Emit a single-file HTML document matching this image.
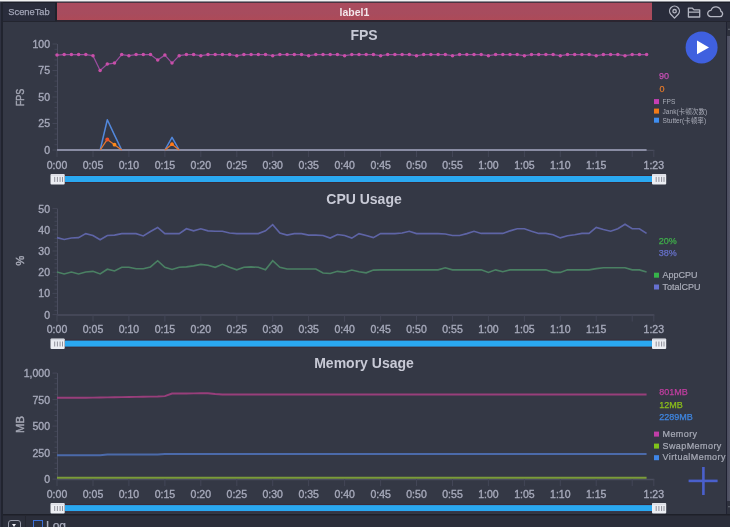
<!DOCTYPE html>
<html><head><meta charset="utf-8">
<style>
html,body{margin:0;padding:0;}
body{width:730px;height:527px;overflow:hidden;background:#343845;position:relative;font-family:"Liberation Sans","Noto Sans CJK SC",sans-serif;}
.abs{position:absolute;}
svg text{font-family:"Liberation Sans","Noto Sans CJK SC",sans-serif;}
.al{font-size:10.5px;fill:#a6a9ba;stroke:#a6a9ba;stroke-width:0.35px;}
.tt{font-size:14px;font-weight:bold;fill:#c8cad6;}
.yn{font-size:11.3px;fill:#a3a6b3;stroke:#a3a6b3;stroke-width:0.45px;}
.vl{font-size:9px;stroke-width:0.25px;}
.lg{font-size:9px;fill:#a9acb8;stroke:#a9acb8;stroke-width:0.2px;}
.lgm{letter-spacing:0.42px;}
.lgs{font-size:6.6px;fill:#a9acb8;}
</style></head><body>
<div class="abs" style="left:0;top:0;width:730px;height:1px;background:#f2f2f2"></div>
<div class="abs" style="left:0;top:1px;width:730px;height:1px;background:#8a8c94"></div>
<div class="abs" style="left:0;top:2px;width:730px;height:20px;background:#292c3b"></div>
<div class="abs" style="left:0;top:2px;width:730px;height:1px;background:#1d1f29"></div>
<div class="abs" style="left:3px;top:3px;width:52px;height:18px;background:#2a2d3c;color:#a3a6b8;font-size:9.3px;line-height:18px;text-align:center;-webkit-text-stroke:0.25px #a3a6b8">SceneTab</div>
<div class="abs" style="left:0;top:21px;width:730px;height:1px;background:#23252f"></div>
<div class="abs" style="left:55px;top:3px;width:1.5px;height:18px;background:#20222b"></div>
<div class="abs" style="left:57px;top:20px;width:595px;height:2px;background:#2b2530"></div>
<div class="abs" style="left:57px;top:2px;width:595px;height:1px;background:#4a3340"></div>
<div class="abs" style="left:57px;top:3px;width:595px;height:17px;background:linear-gradient(#ab4b5e,#a74c5e 60%,#ae4a58);color:#f4e6ea;font-size:10.5px;font-weight:bold;line-height:18px;text-align:center">label1</div>
<div class="abs" style="left:0;top:2px;width:1px;height:525px;background:#2e3140"></div>
<div class="abs" style="left:1px;top:2px;width:2px;height:525px;background:#21242f"></div>
<svg class="abs" style="left:0;top:0" width="730" height="527" viewBox="0 0 730 527">
<!-- top icons -->
<g fill="none" stroke="#b4b6c2" stroke-width="1.3" stroke-linejoin="round" stroke-linecap="round">
<path d="M674.5 18.1 L670.8 14.3 A4.9 4.9 0 1 1 678.2 14.3 Z"/>
<circle cx="674.6" cy="11.2" r="1.7"/>
<path d="M688.4 17 V8.2 H692.4 L694 9.9 H699.7 V17 Z M688.4 12.1 H699.7"/>
<path d="M710.6 16.6 H720 A2.7 2.7 0 0 0 720.9 11.4 A5.1 5.1 0 0 0 711 10.4 A3.1 3.1 0 0 0 710.6 16.6 Z"/>
</g>
<line x1="57.5" y1="44.0" x2="57.5" y2="150.0" stroke="#4a4d5e" stroke-width="1"/>
<line x1="52.5" y1="150.0" x2="57" y2="150.0" stroke="#434657" stroke-width="1"/>
<text x="50" y="153.9" text-anchor="end" class="al">0</text>
<line x1="54.5" y1="144.7" x2="57" y2="144.7" stroke="#434657" stroke-width="1"/>
<line x1="54.5" y1="139.4" x2="57" y2="139.4" stroke="#434657" stroke-width="1"/>
<line x1="54.5" y1="134.1" x2="57" y2="134.1" stroke="#434657" stroke-width="1"/>
<line x1="54.5" y1="128.8" x2="57" y2="128.8" stroke="#434657" stroke-width="1"/>
<line x1="52.5" y1="123.5" x2="57" y2="123.5" stroke="#434657" stroke-width="1"/>
<text x="50" y="127.4" text-anchor="end" class="al">25</text>
<line x1="54.5" y1="118.2" x2="57" y2="118.2" stroke="#434657" stroke-width="1"/>
<line x1="54.5" y1="112.9" x2="57" y2="112.9" stroke="#434657" stroke-width="1"/>
<line x1="54.5" y1="107.6" x2="57" y2="107.6" stroke="#434657" stroke-width="1"/>
<line x1="54.5" y1="102.3" x2="57" y2="102.3" stroke="#434657" stroke-width="1"/>
<line x1="52.5" y1="97.0" x2="57" y2="97.0" stroke="#434657" stroke-width="1"/>
<text x="50" y="100.9" text-anchor="end" class="al">50</text>
<line x1="54.5" y1="91.7" x2="57" y2="91.7" stroke="#434657" stroke-width="1"/>
<line x1="54.5" y1="86.4" x2="57" y2="86.4" stroke="#434657" stroke-width="1"/>
<line x1="54.5" y1="81.1" x2="57" y2="81.1" stroke="#434657" stroke-width="1"/>
<line x1="54.5" y1="75.8" x2="57" y2="75.8" stroke="#434657" stroke-width="1"/>
<line x1="52.5" y1="70.5" x2="57" y2="70.5" stroke="#434657" stroke-width="1"/>
<text x="50" y="74.4" text-anchor="end" class="al">75</text>
<line x1="54.5" y1="65.2" x2="57" y2="65.2" stroke="#434657" stroke-width="1"/>
<line x1="54.5" y1="59.9" x2="57" y2="59.9" stroke="#434657" stroke-width="1"/>
<line x1="54.5" y1="54.6" x2="57" y2="54.6" stroke="#434657" stroke-width="1"/>
<line x1="54.5" y1="49.3" x2="57" y2="49.3" stroke="#434657" stroke-width="1"/>
<line x1="52.5" y1="44.0" x2="57" y2="44.0" stroke="#434657" stroke-width="1"/>
<text x="50" y="47.9" text-anchor="end" class="al">100</text>
<line x1="57" y1="150.4" x2="654.3" y2="150.4" stroke="#4a4d5e" stroke-width="1.4"/>
<line x1="57.0" y1="150.0" x2="57.0" y2="157.0" stroke="#434657" stroke-width="1"/>
<text x="57.0" y="168.7" text-anchor="middle" class="al">0:00</text>
<line x1="93.0" y1="150.0" x2="93.0" y2="157.0" stroke="#434657" stroke-width="1"/>
<text x="93.0" y="168.7" text-anchor="middle" class="al">0:05</text>
<line x1="128.9" y1="150.0" x2="128.9" y2="157.0" stroke="#434657" stroke-width="1"/>
<text x="128.9" y="168.7" text-anchor="middle" class="al">0:10</text>
<line x1="164.9" y1="150.0" x2="164.9" y2="157.0" stroke="#434657" stroke-width="1"/>
<text x="164.9" y="168.7" text-anchor="middle" class="al">0:15</text>
<line x1="200.8" y1="150.0" x2="200.8" y2="157.0" stroke="#434657" stroke-width="1"/>
<text x="200.8" y="168.7" text-anchor="middle" class="al">0:20</text>
<line x1="236.8" y1="150.0" x2="236.8" y2="157.0" stroke="#434657" stroke-width="1"/>
<text x="236.8" y="168.7" text-anchor="middle" class="al">0:25</text>
<line x1="272.7" y1="150.0" x2="272.7" y2="157.0" stroke="#434657" stroke-width="1"/>
<text x="272.7" y="168.7" text-anchor="middle" class="al">0:30</text>
<line x1="308.6" y1="150.0" x2="308.6" y2="157.0" stroke="#434657" stroke-width="1"/>
<text x="308.6" y="168.7" text-anchor="middle" class="al">0:35</text>
<line x1="344.6" y1="150.0" x2="344.6" y2="157.0" stroke="#434657" stroke-width="1"/>
<text x="344.6" y="168.7" text-anchor="middle" class="al">0:40</text>
<line x1="380.6" y1="150.0" x2="380.6" y2="157.0" stroke="#434657" stroke-width="1"/>
<text x="380.6" y="168.7" text-anchor="middle" class="al">0:45</text>
<line x1="416.5" y1="150.0" x2="416.5" y2="157.0" stroke="#434657" stroke-width="1"/>
<text x="416.5" y="168.7" text-anchor="middle" class="al">0:50</text>
<line x1="452.5" y1="150.0" x2="452.5" y2="157.0" stroke="#434657" stroke-width="1"/>
<text x="452.5" y="168.7" text-anchor="middle" class="al">0:55</text>
<line x1="488.4" y1="150.0" x2="488.4" y2="157.0" stroke="#434657" stroke-width="1"/>
<text x="488.4" y="168.7" text-anchor="middle" class="al">1:00</text>
<line x1="524.4" y1="150.0" x2="524.4" y2="157.0" stroke="#434657" stroke-width="1"/>
<text x="524.4" y="168.7" text-anchor="middle" class="al">1:05</text>
<line x1="560.3" y1="150.0" x2="560.3" y2="157.0" stroke="#434657" stroke-width="1"/>
<text x="560.3" y="168.7" text-anchor="middle" class="al">1:10</text>
<line x1="596.2" y1="150.0" x2="596.2" y2="157.0" stroke="#434657" stroke-width="1"/>
<text x="596.2" y="168.7" text-anchor="middle" class="al">1:15</text>
<line x1="632.2" y1="150.0" x2="632.2" y2="157.0" stroke="#434657" stroke-width="1"/>
<line x1="653.8" y1="150.0" x2="653.8" y2="157.0" stroke="#434657" stroke-width="1"/>
<text x="653.8" y="168.7" text-anchor="middle" class="al">1:23</text>
<line x1="57.0" y1="150.0" x2="646.6" y2="150.0" stroke="#898ca3" stroke-width="1.8"/>
<polyline points="100.14,150.00 107.33,119.79 114.52,135.16 121.71,150.00" fill="none" stroke="#5288dc" stroke-width="1.5" stroke-linejoin="round"/>
<polyline points="100.14,150.00 107.33,139.40 114.52,144.70 121.71,150.00" fill="none" stroke="#e8772e" stroke-width="1.3" stroke-linejoin="round"/>
<polyline points="164.85,150.00 172.04,137.28 179.23,150.00" fill="none" stroke="#5288dc" stroke-width="1.5" stroke-linejoin="round"/>
<polyline points="164.85,150.00 172.04,144.17 179.23,150.00" fill="none" stroke="#e8772e" stroke-width="1.3" stroke-linejoin="round"/>
<circle cx="107.3" cy="139.4" r="2" fill="#f0502a"/>
<circle cx="114.5" cy="144.7" r="1.9" fill="#ff8a1a"/>
<circle cx="172.0" cy="144.2" r="1.9" fill="#ff7a1a"/>
<polyline points="57.00,55.13 64.19,54.60 71.38,54.60 78.57,54.60 85.76,54.60 92.95,55.66 100.14,70.50 107.33,64.14 114.52,63.08 121.71,54.60 128.90,55.66 136.09,54.60 143.28,54.60 150.47,54.60 157.66,59.90 164.85,55.13 172.04,63.08 179.23,55.66 186.42,54.60 193.61,54.60 200.80,55.66 207.99,54.60 215.18,54.60 222.37,54.60 229.56,54.60 236.75,55.66 243.94,54.60 251.13,54.60 258.32,54.60 265.51,54.60 272.70,55.66 279.89,54.60 287.08,54.60 294.27,54.60 301.46,54.60 308.65,55.66 315.84,54.60 323.03,54.60 330.22,54.60 337.41,54.60 344.60,55.66 351.79,54.60 358.98,54.60 366.17,54.60 373.36,54.60 380.55,55.66 387.74,54.60 394.93,54.60 402.12,54.60 409.31,54.60 416.50,55.66 423.69,54.60 430.88,54.60 438.07,54.60 445.26,54.60 452.45,55.66 459.64,54.60 466.83,54.60 474.02,54.60 481.21,54.60 488.40,55.66 495.59,54.60 502.78,54.60 509.97,54.60 517.16,54.60 524.35,55.66 531.54,54.60 538.73,54.60 545.92,54.60 553.11,54.60 560.30,55.66 567.49,54.60 574.68,54.60 581.87,54.60 589.06,54.60 596.25,55.66 603.44,54.60 610.63,54.60 617.82,54.60 625.01,55.66 632.20,54.60 639.39,54.60 646.58,54.60" fill="none" stroke="#9a4c9e" stroke-width="1.2"/>
<circle cx="57.0" cy="55.1" r="1.75" fill="#c94fa8"/>
<circle cx="64.2" cy="54.6" r="1.75" fill="#c94fa8"/>
<circle cx="71.4" cy="54.6" r="1.75" fill="#c94fa8"/>
<circle cx="78.6" cy="54.6" r="1.75" fill="#c94fa8"/>
<circle cx="85.8" cy="54.6" r="1.75" fill="#c94fa8"/>
<circle cx="93.0" cy="55.7" r="1.75" fill="#c94fa8"/>
<circle cx="100.1" cy="70.5" r="1.75" fill="#c94fa8"/>
<circle cx="107.3" cy="64.1" r="1.75" fill="#c94fa8"/>
<circle cx="114.5" cy="63.1" r="1.75" fill="#c94fa8"/>
<circle cx="121.7" cy="54.6" r="1.75" fill="#c94fa8"/>
<circle cx="128.9" cy="55.7" r="1.75" fill="#c94fa8"/>
<circle cx="136.1" cy="54.6" r="1.75" fill="#c94fa8"/>
<circle cx="143.3" cy="54.6" r="1.75" fill="#c94fa8"/>
<circle cx="150.5" cy="54.6" r="1.75" fill="#c94fa8"/>
<circle cx="157.7" cy="59.9" r="1.75" fill="#c94fa8"/>
<circle cx="164.9" cy="55.1" r="1.75" fill="#c94fa8"/>
<circle cx="172.0" cy="63.1" r="1.75" fill="#c94fa8"/>
<circle cx="179.2" cy="55.7" r="1.75" fill="#c94fa8"/>
<circle cx="186.4" cy="54.6" r="1.75" fill="#c94fa8"/>
<circle cx="193.6" cy="54.6" r="1.75" fill="#c94fa8"/>
<circle cx="200.8" cy="55.7" r="1.75" fill="#c94fa8"/>
<circle cx="208.0" cy="54.6" r="1.75" fill="#c94fa8"/>
<circle cx="215.2" cy="54.6" r="1.75" fill="#c94fa8"/>
<circle cx="222.4" cy="54.6" r="1.75" fill="#c94fa8"/>
<circle cx="229.6" cy="54.6" r="1.75" fill="#c94fa8"/>
<circle cx="236.8" cy="55.7" r="1.75" fill="#c94fa8"/>
<circle cx="243.9" cy="54.6" r="1.75" fill="#c94fa8"/>
<circle cx="251.1" cy="54.6" r="1.75" fill="#c94fa8"/>
<circle cx="258.3" cy="54.6" r="1.75" fill="#c94fa8"/>
<circle cx="265.5" cy="54.6" r="1.75" fill="#c94fa8"/>
<circle cx="272.7" cy="55.7" r="1.75" fill="#c94fa8"/>
<circle cx="279.9" cy="54.6" r="1.75" fill="#c94fa8"/>
<circle cx="287.1" cy="54.6" r="1.75" fill="#c94fa8"/>
<circle cx="294.3" cy="54.6" r="1.75" fill="#c94fa8"/>
<circle cx="301.5" cy="54.6" r="1.75" fill="#c94fa8"/>
<circle cx="308.6" cy="55.7" r="1.75" fill="#c94fa8"/>
<circle cx="315.8" cy="54.6" r="1.75" fill="#c94fa8"/>
<circle cx="323.0" cy="54.6" r="1.75" fill="#c94fa8"/>
<circle cx="330.2" cy="54.6" r="1.75" fill="#c94fa8"/>
<circle cx="337.4" cy="54.6" r="1.75" fill="#c94fa8"/>
<circle cx="344.6" cy="55.7" r="1.75" fill="#c94fa8"/>
<circle cx="351.8" cy="54.6" r="1.75" fill="#c94fa8"/>
<circle cx="359.0" cy="54.6" r="1.75" fill="#c94fa8"/>
<circle cx="366.2" cy="54.6" r="1.75" fill="#c94fa8"/>
<circle cx="373.4" cy="54.6" r="1.75" fill="#c94fa8"/>
<circle cx="380.6" cy="55.7" r="1.75" fill="#c94fa8"/>
<circle cx="387.7" cy="54.6" r="1.75" fill="#c94fa8"/>
<circle cx="394.9" cy="54.6" r="1.75" fill="#c94fa8"/>
<circle cx="402.1" cy="54.6" r="1.75" fill="#c94fa8"/>
<circle cx="409.3" cy="54.6" r="1.75" fill="#c94fa8"/>
<circle cx="416.5" cy="55.7" r="1.75" fill="#c94fa8"/>
<circle cx="423.7" cy="54.6" r="1.75" fill="#c94fa8"/>
<circle cx="430.9" cy="54.6" r="1.75" fill="#c94fa8"/>
<circle cx="438.1" cy="54.6" r="1.75" fill="#c94fa8"/>
<circle cx="445.3" cy="54.6" r="1.75" fill="#c94fa8"/>
<circle cx="452.5" cy="55.7" r="1.75" fill="#c94fa8"/>
<circle cx="459.6" cy="54.6" r="1.75" fill="#c94fa8"/>
<circle cx="466.8" cy="54.6" r="1.75" fill="#c94fa8"/>
<circle cx="474.0" cy="54.6" r="1.75" fill="#c94fa8"/>
<circle cx="481.2" cy="54.6" r="1.75" fill="#c94fa8"/>
<circle cx="488.4" cy="55.7" r="1.75" fill="#c94fa8"/>
<circle cx="495.6" cy="54.6" r="1.75" fill="#c94fa8"/>
<circle cx="502.8" cy="54.6" r="1.75" fill="#c94fa8"/>
<circle cx="510.0" cy="54.6" r="1.75" fill="#c94fa8"/>
<circle cx="517.2" cy="54.6" r="1.75" fill="#c94fa8"/>
<circle cx="524.4" cy="55.7" r="1.75" fill="#c94fa8"/>
<circle cx="531.5" cy="54.6" r="1.75" fill="#c94fa8"/>
<circle cx="538.7" cy="54.6" r="1.75" fill="#c94fa8"/>
<circle cx="545.9" cy="54.6" r="1.75" fill="#c94fa8"/>
<circle cx="553.1" cy="54.6" r="1.75" fill="#c94fa8"/>
<circle cx="560.3" cy="55.7" r="1.75" fill="#c94fa8"/>
<circle cx="567.5" cy="54.6" r="1.75" fill="#c94fa8"/>
<circle cx="574.7" cy="54.6" r="1.75" fill="#c94fa8"/>
<circle cx="581.9" cy="54.6" r="1.75" fill="#c94fa8"/>
<circle cx="589.1" cy="54.6" r="1.75" fill="#c94fa8"/>
<circle cx="596.2" cy="55.7" r="1.75" fill="#c94fa8"/>
<circle cx="603.4" cy="54.6" r="1.75" fill="#c94fa8"/>
<circle cx="610.6" cy="54.6" r="1.75" fill="#c94fa8"/>
<circle cx="617.8" cy="54.6" r="1.75" fill="#c94fa8"/>
<circle cx="625.0" cy="55.7" r="1.75" fill="#c94fa8"/>
<circle cx="632.2" cy="54.6" r="1.75" fill="#c94fa8"/>
<circle cx="639.4" cy="54.6" r="1.75" fill="#c94fa8"/>
<circle cx="646.6" cy="54.6" r="1.75" fill="#c94fa8"/>
<line x1="57.5" y1="208.6" x2="57.5" y2="314.6" stroke="#4a4d5e" stroke-width="1"/>
<line x1="52.5" y1="314.6" x2="57" y2="314.6" stroke="#434657" stroke-width="1"/>
<text x="50" y="318.5" text-anchor="end" class="al">0</text>
<line x1="54.5" y1="310.4" x2="57" y2="310.4" stroke="#434657" stroke-width="1"/>
<line x1="54.5" y1="306.1" x2="57" y2="306.1" stroke="#434657" stroke-width="1"/>
<line x1="54.5" y1="301.9" x2="57" y2="301.9" stroke="#434657" stroke-width="1"/>
<line x1="54.5" y1="297.6" x2="57" y2="297.6" stroke="#434657" stroke-width="1"/>
<line x1="52.5" y1="293.4" x2="57" y2="293.4" stroke="#434657" stroke-width="1"/>
<text x="50" y="297.3" text-anchor="end" class="al">10</text>
<line x1="54.5" y1="289.2" x2="57" y2="289.2" stroke="#434657" stroke-width="1"/>
<line x1="54.5" y1="284.9" x2="57" y2="284.9" stroke="#434657" stroke-width="1"/>
<line x1="54.5" y1="280.7" x2="57" y2="280.7" stroke="#434657" stroke-width="1"/>
<line x1="54.5" y1="276.4" x2="57" y2="276.4" stroke="#434657" stroke-width="1"/>
<line x1="52.5" y1="272.2" x2="57" y2="272.2" stroke="#434657" stroke-width="1"/>
<text x="50" y="276.1" text-anchor="end" class="al">20</text>
<line x1="54.5" y1="268.0" x2="57" y2="268.0" stroke="#434657" stroke-width="1"/>
<line x1="54.5" y1="263.7" x2="57" y2="263.7" stroke="#434657" stroke-width="1"/>
<line x1="54.5" y1="259.5" x2="57" y2="259.5" stroke="#434657" stroke-width="1"/>
<line x1="54.5" y1="255.2" x2="57" y2="255.2" stroke="#434657" stroke-width="1"/>
<line x1="52.5" y1="251.0" x2="57" y2="251.0" stroke="#434657" stroke-width="1"/>
<text x="50" y="254.9" text-anchor="end" class="al">30</text>
<line x1="54.5" y1="246.8" x2="57" y2="246.8" stroke="#434657" stroke-width="1"/>
<line x1="54.5" y1="242.5" x2="57" y2="242.5" stroke="#434657" stroke-width="1"/>
<line x1="54.5" y1="238.3" x2="57" y2="238.3" stroke="#434657" stroke-width="1"/>
<line x1="54.5" y1="234.0" x2="57" y2="234.0" stroke="#434657" stroke-width="1"/>
<line x1="52.5" y1="229.8" x2="57" y2="229.8" stroke="#434657" stroke-width="1"/>
<text x="50" y="233.7" text-anchor="end" class="al">40</text>
<line x1="54.5" y1="225.6" x2="57" y2="225.6" stroke="#434657" stroke-width="1"/>
<line x1="54.5" y1="221.3" x2="57" y2="221.3" stroke="#434657" stroke-width="1"/>
<line x1="54.5" y1="217.1" x2="57" y2="217.1" stroke="#434657" stroke-width="1"/>
<line x1="54.5" y1="212.8" x2="57" y2="212.8" stroke="#434657" stroke-width="1"/>
<line x1="52.5" y1="208.6" x2="57" y2="208.6" stroke="#434657" stroke-width="1"/>
<text x="50" y="212.5" text-anchor="end" class="al">50</text>
<line x1="57" y1="315.0" x2="654.3" y2="315.0" stroke="#4a4d5e" stroke-width="1.4"/>
<line x1="57.0" y1="314.6" x2="57.0" y2="321.6" stroke="#434657" stroke-width="1"/>
<text x="57.0" y="333.3" text-anchor="middle" class="al">0:00</text>
<line x1="93.0" y1="314.6" x2="93.0" y2="321.6" stroke="#434657" stroke-width="1"/>
<text x="93.0" y="333.3" text-anchor="middle" class="al">0:05</text>
<line x1="128.9" y1="314.6" x2="128.9" y2="321.6" stroke="#434657" stroke-width="1"/>
<text x="128.9" y="333.3" text-anchor="middle" class="al">0:10</text>
<line x1="164.9" y1="314.6" x2="164.9" y2="321.6" stroke="#434657" stroke-width="1"/>
<text x="164.9" y="333.3" text-anchor="middle" class="al">0:15</text>
<line x1="200.8" y1="314.6" x2="200.8" y2="321.6" stroke="#434657" stroke-width="1"/>
<text x="200.8" y="333.3" text-anchor="middle" class="al">0:20</text>
<line x1="236.8" y1="314.6" x2="236.8" y2="321.6" stroke="#434657" stroke-width="1"/>
<text x="236.8" y="333.3" text-anchor="middle" class="al">0:25</text>
<line x1="272.7" y1="314.6" x2="272.7" y2="321.6" stroke="#434657" stroke-width="1"/>
<text x="272.7" y="333.3" text-anchor="middle" class="al">0:30</text>
<line x1="308.6" y1="314.6" x2="308.6" y2="321.6" stroke="#434657" stroke-width="1"/>
<text x="308.6" y="333.3" text-anchor="middle" class="al">0:35</text>
<line x1="344.6" y1="314.6" x2="344.6" y2="321.6" stroke="#434657" stroke-width="1"/>
<text x="344.6" y="333.3" text-anchor="middle" class="al">0:40</text>
<line x1="380.6" y1="314.6" x2="380.6" y2="321.6" stroke="#434657" stroke-width="1"/>
<text x="380.6" y="333.3" text-anchor="middle" class="al">0:45</text>
<line x1="416.5" y1="314.6" x2="416.5" y2="321.6" stroke="#434657" stroke-width="1"/>
<text x="416.5" y="333.3" text-anchor="middle" class="al">0:50</text>
<line x1="452.5" y1="314.6" x2="452.5" y2="321.6" stroke="#434657" stroke-width="1"/>
<text x="452.5" y="333.3" text-anchor="middle" class="al">0:55</text>
<line x1="488.4" y1="314.6" x2="488.4" y2="321.6" stroke="#434657" stroke-width="1"/>
<text x="488.4" y="333.3" text-anchor="middle" class="al">1:00</text>
<line x1="524.4" y1="314.6" x2="524.4" y2="321.6" stroke="#434657" stroke-width="1"/>
<text x="524.4" y="333.3" text-anchor="middle" class="al">1:05</text>
<line x1="560.3" y1="314.6" x2="560.3" y2="321.6" stroke="#434657" stroke-width="1"/>
<text x="560.3" y="333.3" text-anchor="middle" class="al">1:10</text>
<line x1="596.2" y1="314.6" x2="596.2" y2="321.6" stroke="#434657" stroke-width="1"/>
<text x="596.2" y="333.3" text-anchor="middle" class="al">1:15</text>
<line x1="632.2" y1="314.6" x2="632.2" y2="321.6" stroke="#434657" stroke-width="1"/>
<line x1="653.8" y1="314.6" x2="653.8" y2="321.6" stroke="#434657" stroke-width="1"/>
<text x="653.8" y="333.3" text-anchor="middle" class="al">1:23</text>
<polyline points="57.00,237.64 64.19,239.55 71.38,238.07 78.57,237.64 85.76,233.62 92.95,235.52 100.14,239.76 107.33,235.52 114.52,235.10 121.71,233.62 128.90,233.62 136.09,233.62 143.28,235.95 150.47,231.50 157.66,227.47 164.85,233.62 172.04,233.62 179.23,233.62 186.42,228.74 193.61,230.86 200.80,228.74 207.99,230.86 215.18,231.28 222.37,231.28 229.56,232.98 236.75,233.62 243.94,233.62 251.13,233.62 258.32,233.62 265.51,230.86 272.70,224.71 279.89,232.98 287.08,235.10 294.27,233.62 301.46,233.62 308.65,235.10 315.84,235.10 323.03,235.52 330.22,238.07 337.41,234.46 344.60,235.52 351.79,238.07 358.98,233.62 366.17,235.52 373.36,237.64 380.55,233.62 387.74,233.62 394.93,233.62 402.12,232.98 409.31,231.28 416.50,233.62 423.69,233.62 430.88,233.62 438.07,233.62 445.26,234.04 452.45,235.52 459.64,235.52 466.83,233.62 474.02,231.28 481.21,233.40 488.40,233.40 495.59,233.40 502.78,233.40 509.97,230.86 517.16,228.74 524.35,228.74 531.54,231.28 538.73,233.40 545.92,233.40 553.11,234.68 560.30,237.86 567.49,235.74 574.68,234.68 581.87,233.40 589.06,233.40 596.25,227.47 603.44,229.59 610.63,231.28 617.82,228.74 625.01,224.29 632.20,228.74 639.39,228.74 646.58,233.40" fill="none" stroke="#5e64a6" stroke-width="1.6"/>
<polyline points="57.00,271.99 64.19,273.90 71.38,271.99 78.57,273.90 85.76,271.99 92.95,271.35 100.14,273.90 107.33,269.23 114.52,270.93 121.71,267.32 128.90,267.32 136.09,268.81 143.28,268.81 150.47,266.90 157.66,260.75 164.85,267.32 172.04,269.44 179.23,267.32 186.42,266.90 193.61,265.84 200.80,264.36 207.99,265.20 215.18,267.32 222.37,264.36 229.56,267.32 236.75,269.87 243.94,267.32 251.13,266.90 258.32,267.32 265.51,269.87 272.70,260.75 279.89,267.32 287.08,269.02 294.27,269.02 301.46,269.02 308.65,269.02 315.84,269.02 323.03,273.05 330.22,273.47 337.41,271.35 344.60,272.20 351.79,270.08 358.98,271.78 366.17,272.84 373.36,270.08 380.55,269.87 387.74,269.87 394.93,269.87 402.12,269.87 409.31,269.87 416.50,269.87 423.69,269.87 430.88,269.87 438.07,269.87 445.26,267.75 452.45,269.87 459.64,269.87 466.83,269.87 474.02,269.87 481.21,269.87 488.40,272.41 495.59,269.87 502.78,271.78 509.97,269.87 517.16,269.87 524.35,269.87 531.54,269.87 538.73,269.87 545.92,269.87 553.11,272.41 560.30,272.41 567.49,269.87 574.68,269.87 581.87,269.87 589.06,269.87 596.25,268.60 603.44,267.75 610.63,267.75 617.82,267.75 625.01,267.75 632.20,269.87 639.39,269.87 646.58,271.99" fill="none" stroke="#4a8063" stroke-width="1.6"/>
<line x1="57.5" y1="373.1" x2="57.5" y2="479.1" stroke="#4a4d5e" stroke-width="1"/>
<line x1="52.5" y1="479.1" x2="57" y2="479.1" stroke="#434657" stroke-width="1"/>
<text x="50" y="483.0" text-anchor="end" class="al">0</text>
<line x1="54.5" y1="473.8" x2="57" y2="473.8" stroke="#434657" stroke-width="1"/>
<line x1="54.5" y1="468.5" x2="57" y2="468.5" stroke="#434657" stroke-width="1"/>
<line x1="54.5" y1="463.2" x2="57" y2="463.2" stroke="#434657" stroke-width="1"/>
<line x1="54.5" y1="457.9" x2="57" y2="457.9" stroke="#434657" stroke-width="1"/>
<line x1="52.5" y1="452.6" x2="57" y2="452.6" stroke="#434657" stroke-width="1"/>
<text x="50" y="456.5" text-anchor="end" class="al">250</text>
<line x1="54.5" y1="447.3" x2="57" y2="447.3" stroke="#434657" stroke-width="1"/>
<line x1="54.5" y1="442.0" x2="57" y2="442.0" stroke="#434657" stroke-width="1"/>
<line x1="54.5" y1="436.7" x2="57" y2="436.7" stroke="#434657" stroke-width="1"/>
<line x1="54.5" y1="431.4" x2="57" y2="431.4" stroke="#434657" stroke-width="1"/>
<line x1="52.5" y1="426.1" x2="57" y2="426.1" stroke="#434657" stroke-width="1"/>
<text x="50" y="430.0" text-anchor="end" class="al">500</text>
<line x1="54.5" y1="420.8" x2="57" y2="420.8" stroke="#434657" stroke-width="1"/>
<line x1="54.5" y1="415.5" x2="57" y2="415.5" stroke="#434657" stroke-width="1"/>
<line x1="54.5" y1="410.2" x2="57" y2="410.2" stroke="#434657" stroke-width="1"/>
<line x1="54.5" y1="404.9" x2="57" y2="404.9" stroke="#434657" stroke-width="1"/>
<line x1="52.5" y1="399.6" x2="57" y2="399.6" stroke="#434657" stroke-width="1"/>
<text x="50" y="403.5" text-anchor="end" class="al">750</text>
<line x1="54.5" y1="394.3" x2="57" y2="394.3" stroke="#434657" stroke-width="1"/>
<line x1="54.5" y1="389.0" x2="57" y2="389.0" stroke="#434657" stroke-width="1"/>
<line x1="54.5" y1="383.7" x2="57" y2="383.7" stroke="#434657" stroke-width="1"/>
<line x1="54.5" y1="378.4" x2="57" y2="378.4" stroke="#434657" stroke-width="1"/>
<line x1="52.5" y1="373.1" x2="57" y2="373.1" stroke="#434657" stroke-width="1"/>
<text x="50" y="377.0" text-anchor="end" class="al">1,000</text>
<line x1="57" y1="479.5" x2="654.3" y2="479.5" stroke="#4a4d5e" stroke-width="1.4"/>
<line x1="57.0" y1="479.1" x2="57.0" y2="486.1" stroke="#434657" stroke-width="1"/>
<text x="57.0" y="497.8" text-anchor="middle" class="al">0:00</text>
<line x1="93.0" y1="479.1" x2="93.0" y2="486.1" stroke="#434657" stroke-width="1"/>
<text x="93.0" y="497.8" text-anchor="middle" class="al">0:05</text>
<line x1="128.9" y1="479.1" x2="128.9" y2="486.1" stroke="#434657" stroke-width="1"/>
<text x="128.9" y="497.8" text-anchor="middle" class="al">0:10</text>
<line x1="164.9" y1="479.1" x2="164.9" y2="486.1" stroke="#434657" stroke-width="1"/>
<text x="164.9" y="497.8" text-anchor="middle" class="al">0:15</text>
<line x1="200.8" y1="479.1" x2="200.8" y2="486.1" stroke="#434657" stroke-width="1"/>
<text x="200.8" y="497.8" text-anchor="middle" class="al">0:20</text>
<line x1="236.8" y1="479.1" x2="236.8" y2="486.1" stroke="#434657" stroke-width="1"/>
<text x="236.8" y="497.8" text-anchor="middle" class="al">0:25</text>
<line x1="272.7" y1="479.1" x2="272.7" y2="486.1" stroke="#434657" stroke-width="1"/>
<text x="272.7" y="497.8" text-anchor="middle" class="al">0:30</text>
<line x1="308.6" y1="479.1" x2="308.6" y2="486.1" stroke="#434657" stroke-width="1"/>
<text x="308.6" y="497.8" text-anchor="middle" class="al">0:35</text>
<line x1="344.6" y1="479.1" x2="344.6" y2="486.1" stroke="#434657" stroke-width="1"/>
<text x="344.6" y="497.8" text-anchor="middle" class="al">0:40</text>
<line x1="380.6" y1="479.1" x2="380.6" y2="486.1" stroke="#434657" stroke-width="1"/>
<text x="380.6" y="497.8" text-anchor="middle" class="al">0:45</text>
<line x1="416.5" y1="479.1" x2="416.5" y2="486.1" stroke="#434657" stroke-width="1"/>
<text x="416.5" y="497.8" text-anchor="middle" class="al">0:50</text>
<line x1="452.5" y1="479.1" x2="452.5" y2="486.1" stroke="#434657" stroke-width="1"/>
<text x="452.5" y="497.8" text-anchor="middle" class="al">0:55</text>
<line x1="488.4" y1="479.1" x2="488.4" y2="486.1" stroke="#434657" stroke-width="1"/>
<text x="488.4" y="497.8" text-anchor="middle" class="al">1:00</text>
<line x1="524.4" y1="479.1" x2="524.4" y2="486.1" stroke="#434657" stroke-width="1"/>
<text x="524.4" y="497.8" text-anchor="middle" class="al">1:05</text>
<line x1="560.3" y1="479.1" x2="560.3" y2="486.1" stroke="#434657" stroke-width="1"/>
<text x="560.3" y="497.8" text-anchor="middle" class="al">1:10</text>
<line x1="596.2" y1="479.1" x2="596.2" y2="486.1" stroke="#434657" stroke-width="1"/>
<text x="596.2" y="497.8" text-anchor="middle" class="al">1:15</text>
<line x1="632.2" y1="479.1" x2="632.2" y2="486.1" stroke="#434657" stroke-width="1"/>
<line x1="653.8" y1="479.1" x2="653.8" y2="486.1" stroke="#434657" stroke-width="1"/>
<text x="653.8" y="497.8" text-anchor="middle" class="al">1:23</text>
<polyline points="57.00,397.80 64.19,397.80 71.38,397.80 78.57,397.80 85.76,397.80 92.95,397.67 100.14,397.54 107.33,397.42 114.52,397.29 121.71,397.16 128.90,397.03 136.09,396.91 143.28,396.78 150.47,396.65 157.66,396.53 164.85,396.10 172.04,393.56 179.23,393.49 186.42,393.43 193.61,393.37 200.80,393.30 207.99,393.24 215.18,393.98 222.37,394.51 229.56,394.51 236.75,394.51 243.94,394.51 251.13,394.51 258.32,394.51 265.51,394.51 272.70,394.51 279.89,394.51 287.08,394.51 294.27,394.51 301.46,394.51 308.65,394.51 315.84,394.51 323.03,394.51 330.22,394.51 337.41,394.51 344.60,394.51 351.79,394.51 358.98,394.51 366.17,394.51 373.36,394.51 380.55,394.51 387.74,394.51 394.93,394.51 402.12,394.51 409.31,394.51 416.50,394.51 423.69,394.51 430.88,394.51 438.07,394.51 445.26,394.51 452.45,394.51 459.64,394.51 466.83,394.51 474.02,394.51 481.21,394.51 488.40,394.51 495.59,394.51 502.78,394.51 509.97,394.51 517.16,394.51 524.35,394.51 531.54,394.51 538.73,394.51 545.92,394.51 553.11,394.51 560.30,394.51 567.49,394.51 574.68,394.51 581.87,394.51 589.06,394.51 596.25,394.51 603.44,394.51 610.63,394.51 617.82,394.51 625.01,394.51 632.20,394.51 639.39,394.51 646.58,394.51" fill="none" stroke="#983e7b" stroke-width="1.9"/>
<polyline points="57.00,455.14 64.19,455.14 71.38,455.14 78.57,455.14 85.76,455.14 92.95,455.14 100.14,455.14 107.33,454.61 114.52,454.61 121.71,454.61 128.90,454.61 136.09,454.61 143.28,454.61 150.47,454.61 157.66,454.61 164.85,454.08 172.04,454.08 179.23,454.08 186.42,454.08 193.61,454.08 200.80,454.08 207.99,454.08 215.18,454.08 222.37,454.08 229.56,454.08 236.75,454.08 243.94,454.08 251.13,454.08 258.32,454.08 265.51,454.08 272.70,454.08 279.89,454.08 287.08,454.08 294.27,454.08 301.46,454.08 308.65,454.08 315.84,454.08 323.03,454.08 330.22,454.08 337.41,454.08 344.60,454.08 351.79,454.08 358.98,454.08 366.17,454.08 373.36,454.08 380.55,454.08 387.74,454.08 394.93,454.08 402.12,454.08 409.31,454.08 416.50,454.08 423.69,454.08 430.88,454.08 438.07,454.08 445.26,454.08 452.45,454.08 459.64,454.08 466.83,454.08 474.02,454.08 481.21,454.08 488.40,454.08 495.59,454.08 502.78,454.08 509.97,454.08 517.16,454.08 524.35,454.08 531.54,454.08 538.73,454.08 545.92,454.08 553.11,454.08 560.30,454.08 567.49,454.08 574.68,454.08 581.87,454.08 589.06,454.08 596.25,454.08 603.44,454.08 610.63,454.08 617.82,454.08 625.01,454.08 632.20,454.08 639.39,454.08 646.58,454.08" fill="none" stroke="#4b6aaa" stroke-width="2"/>
<polyline points="57.00,477.83 64.19,477.83 71.38,477.83 78.57,477.83 85.76,477.83 92.95,477.83 100.14,477.83 107.33,477.83 114.52,477.83 121.71,477.83 128.90,477.83 136.09,477.83 143.28,477.83 150.47,477.83 157.66,477.83 164.85,477.83 172.04,477.83 179.23,477.83 186.42,477.83 193.61,477.83 200.80,477.83 207.99,477.83 215.18,477.83 222.37,477.83 229.56,477.83 236.75,477.83 243.94,477.83 251.13,477.83 258.32,477.83 265.51,477.83 272.70,477.83 279.89,477.83 287.08,477.83 294.27,477.83 301.46,477.83 308.65,477.83 315.84,477.83 323.03,477.83 330.22,477.83 337.41,477.83 344.60,477.83 351.79,477.83 358.98,477.83 366.17,477.83 373.36,477.83 380.55,477.83 387.74,477.83 394.93,477.83 402.12,477.83 409.31,477.83 416.50,477.83 423.69,477.83 430.88,477.83 438.07,477.83 445.26,477.83 452.45,477.83 459.64,477.83 466.83,477.83 474.02,477.83 481.21,477.83 488.40,477.83 495.59,477.83 502.78,477.83 509.97,477.83 517.16,477.83 524.35,477.83 531.54,477.83 538.73,477.83 545.92,477.83 553.11,477.83 560.30,477.83 567.49,477.83 574.68,477.83 581.87,477.83 589.06,477.83 596.25,477.83 603.44,477.83 610.63,477.83 617.82,477.83 625.01,477.83 632.20,477.83 639.39,477.83 646.58,477.83" fill="none" stroke="#7b9c3a" stroke-width="2"/>
<rect x="64.5" y="175.0" width="587.5" height="8" fill="#3a2b38"/>
<rect x="65" y="176.0" width="587" height="6" fill="#2aa8f0"/>
<rect x="50.5" y="173.9" width="14.2" height="10.5" rx="1" fill="#eceef3"/>
<rect x="51.0" y="174.4" width="13.2" height="1.2" fill="#d6d8e0"/>
<line x1="54.7" y1="176.9" x2="54.7" y2="181.9" stroke="#85858f" stroke-width="0.9"/>
<line x1="57.4" y1="176.9" x2="57.4" y2="181.9" stroke="#85858f" stroke-width="0.9"/>
<line x1="60.1" y1="176.9" x2="60.1" y2="181.9" stroke="#85858f" stroke-width="0.9"/>
<line x1="62.5" y1="176.9" x2="62.5" y2="181.9" stroke="#85858f" stroke-width="0.9"/>
<rect x="652" y="173.9" width="14.2" height="10.5" rx="1" fill="#eceef3"/>
<rect x="652.5" y="174.4" width="13.2" height="1.2" fill="#d6d8e0"/>
<line x1="656.2" y1="176.9" x2="656.2" y2="181.9" stroke="#85858f" stroke-width="0.9"/>
<line x1="658.9" y1="176.9" x2="658.9" y2="181.9" stroke="#85858f" stroke-width="0.9"/>
<line x1="661.6" y1="176.9" x2="661.6" y2="181.9" stroke="#85858f" stroke-width="0.9"/>
<line x1="664.0" y1="176.9" x2="664.0" y2="181.9" stroke="#85858f" stroke-width="0.9"/>
<rect x="64.5" y="339.6" width="587.5" height="8" fill="#3a2b38"/>
<rect x="65" y="340.6" width="587" height="6" fill="#2aa8f0"/>
<rect x="50.5" y="338.5" width="14.2" height="10.5" rx="1" fill="#eceef3"/>
<rect x="51.0" y="339.0" width="13.2" height="1.2" fill="#d6d8e0"/>
<line x1="54.7" y1="341.5" x2="54.7" y2="346.5" stroke="#85858f" stroke-width="0.9"/>
<line x1="57.4" y1="341.5" x2="57.4" y2="346.5" stroke="#85858f" stroke-width="0.9"/>
<line x1="60.1" y1="341.5" x2="60.1" y2="346.5" stroke="#85858f" stroke-width="0.9"/>
<line x1="62.5" y1="341.5" x2="62.5" y2="346.5" stroke="#85858f" stroke-width="0.9"/>
<rect x="652" y="338.5" width="14.2" height="10.5" rx="1" fill="#eceef3"/>
<rect x="652.5" y="339.0" width="13.2" height="1.2" fill="#d6d8e0"/>
<line x1="656.2" y1="341.5" x2="656.2" y2="346.5" stroke="#85858f" stroke-width="0.9"/>
<line x1="658.9" y1="341.5" x2="658.9" y2="346.5" stroke="#85858f" stroke-width="0.9"/>
<line x1="661.6" y1="341.5" x2="661.6" y2="346.5" stroke="#85858f" stroke-width="0.9"/>
<line x1="664.0" y1="341.5" x2="664.0" y2="346.5" stroke="#85858f" stroke-width="0.9"/>
<rect x="64.5" y="504.1" width="587.5" height="8" fill="#3a2b38"/>
<rect x="65" y="505.1" width="587" height="6" fill="#2aa8f0"/>
<rect x="50.5" y="503.0" width="14.2" height="10.5" rx="1" fill="#eceef3"/>
<rect x="51.0" y="503.5" width="13.2" height="1.2" fill="#d6d8e0"/>
<line x1="54.7" y1="506.0" x2="54.7" y2="511.0" stroke="#85858f" stroke-width="0.9"/>
<line x1="57.4" y1="506.0" x2="57.4" y2="511.0" stroke="#85858f" stroke-width="0.9"/>
<line x1="60.1" y1="506.0" x2="60.1" y2="511.0" stroke="#85858f" stroke-width="0.9"/>
<line x1="62.5" y1="506.0" x2="62.5" y2="511.0" stroke="#85858f" stroke-width="0.9"/>
<rect x="652" y="503.0" width="14.2" height="10.5" rx="1" fill="#eceef3"/>
<rect x="652.5" y="503.5" width="13.2" height="1.2" fill="#d6d8e0"/>
<line x1="656.2" y1="506.0" x2="656.2" y2="511.0" stroke="#85858f" stroke-width="0.9"/>
<line x1="658.9" y1="506.0" x2="658.9" y2="511.0" stroke="#85858f" stroke-width="0.9"/>
<line x1="661.6" y1="506.0" x2="661.6" y2="511.0" stroke="#85858f" stroke-width="0.9"/>
<line x1="664.0" y1="506.0" x2="664.0" y2="511.0" stroke="#85858f" stroke-width="0.9"/>
<text x="364" y="39.7" text-anchor="middle" class="tt">FPS</text>
<text x="364" y="204.0" text-anchor="middle" class="tt">CPU Usage</text>
<text x="364" y="368.2" text-anchor="middle" class="tt">Memory Usage</text>
<text transform="translate(23.6,97.45) rotate(-90)" x="-8.65" textLength="17.3" lengthAdjust="spacingAndGlyphs" class="yn">FPS</text>
<text transform="translate(23.6,260.7) rotate(-90)" text-anchor="middle" class="yn">%</text>
<text transform="translate(23.6,424.5) rotate(-90)" text-anchor="middle" class="yn">MB</text>
<text x="659" y="79.2" class="vl" fill="#c64fb4" stroke="#c64fb4">90</text>
<text x="659.5" y="92.3" class="vl" fill="#e0782a" stroke="#e0782a">0</text>
<text x="658.8" y="243.6" class="vl" fill="#3fae4a" stroke="#3fae4a">20%</text>
<text x="658.8" y="255.9" class="vl" fill="#6670c8" stroke="#6670c8">38%</text>
<text x="659.2" y="395.3" class="vl" fill="#c03ea0" stroke="#c03ea0">801MB</text>
<text x="659.2" y="408.2" class="vl" fill="#8cbf1a" stroke="#8cbf1a">12MB</text>
<text x="659.2" y="420.3" class="vl" fill="#3f86e0" stroke="#3f86e0">2289MB</text>
<rect x="654" y="99.1" width="5" height="5" fill="#c63fb4"/><text x="662.5" y="104.1" class="lgs">FPS</text>
<rect x="654" y="108.6" width="5" height="5" fill="#f07a18"/><text x="662.5" y="113.6" class="lgs">Jank(卡顿次数)</text>
<rect x="654" y="117.7" width="5" height="5" fill="#3f8ef0"/><text x="662.5" y="122.7" class="lgs">Stutter(卡顿率)</text>
<rect x="654" y="272.7" width="5" height="5" fill="#36b34a"/><text x="662.5" y="277.7" class="lg">AppCPU</text>
<rect x="654" y="284.5" width="5" height="5" fill="#6670d0"/><text x="662.5" y="289.5" class="lg">TotalCPU</text>
<rect x="654" y="431.6" width="5" height="5" fill="#c03ea8"/><text x="662.5" y="436.6" class="lg lgm">Memory</text>
<rect x="654" y="443.6" width="5" height="5" fill="#7fc21a"/><text x="662.5" y="448.6" class="lg lgm">SwapMemory</text>
<rect x="654" y="455.2" width="5" height="5" fill="#3f86e8"/><text x="662.5" y="460.2" class="lg lgm">VirtualMemory</text>
<!-- play button -->
<circle cx="701.6" cy="47.4" r="16" fill="#3f60df"/>
<path d="M697 40.6 L709 47.4 L697 54.2 Z" fill="#ffffff"/>
<!-- plus -->
<rect x="688.6" y="479.6" width="29" height="2.6" fill="#4a60cc"/>
<rect x="702.1" y="467" width="2.6" height="28" fill="#4a60cc"/>
</svg>
<!-- scrollbar -->
<div class="abs" style="left:726px;top:22px;width:1px;height:493px;background:#1f2131"></div>
<div class="abs" style="left:727px;top:22px;width:3px;height:493px;background:#2e313d"></div>
<div class="abs" style="left:727.5px;top:27.5px;width:0;height:0;border-left:1.5px solid transparent;border-right:1.5px solid transparent;border-bottom:2.5px solid #6a6d7a"></div>
<div class="abs" style="left:727px;top:36px;width:3px;height:465px;background:linear-gradient(90deg,#4a4c5f,#555768)"></div>
<div class="abs" style="left:727.5px;top:506px;width:0;height:0;border-left:1.5px solid transparent;border-right:1.5px solid transparent;border-top:2.5px solid #6a6d7a"></div>
<!-- bottom bar -->
<div class="abs" style="left:0;top:514px;width:730px;height:1px;background:#1e2029"></div>
<div class="abs" style="left:0;top:515px;width:730px;height:1px;background:#252731"></div>
<div class="abs" style="left:0;top:516px;width:730px;height:11px;background:#2b2e3a"></div>
<div class="abs" style="left:0;top:514px;width:1px;height:13px;background:#2e3140"></div>
<div class="abs" style="left:1px;top:514px;width:2px;height:13px;background:#21242f"></div>
<div class="abs" style="left:8px;top:519.7px;width:13px;height:12px;border:1.5px solid #9a9dab;border-radius:3px;box-sizing:border-box"></div>
<div class="abs" style="left:12px;top:524.3px;width:0;height:0;border-left:2.6px solid transparent;border-right:2.6px solid transparent;border-top:3.2px solid #eeeef4"></div>
<div class="abs" style="left:25px;top:516px;width:1px;height:11px;background:#24262f"></div>
<div class="abs" style="left:33px;top:519.7px;width:9.6px;height:10px;border:1.4px solid #3a6fd8;box-sizing:border-box"></div>
<div class="abs" style="left:46px;top:520.3px;color:#a9acbc;font-size:12px;line-height:12px;-webkit-text-stroke:0.25px #a9acbc">Log</div>
</body></html>
